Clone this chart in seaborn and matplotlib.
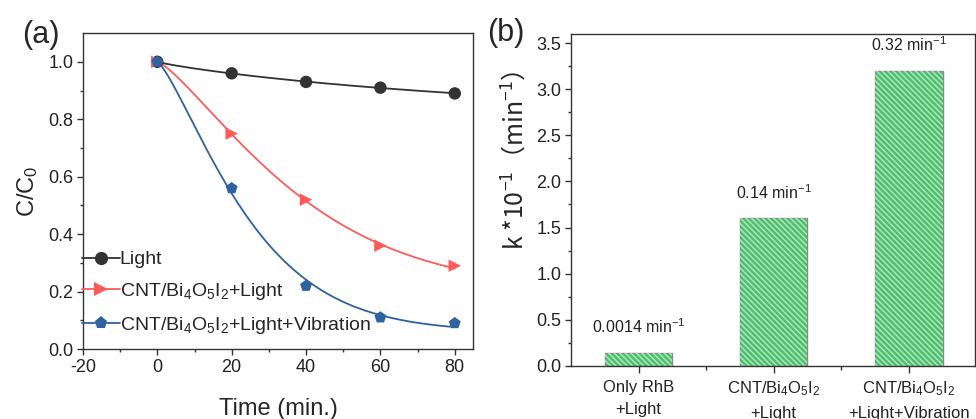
import matplotlib

matplotlib.use("Agg")

import matplotlib.pyplot as plt
import numpy as np
import pandas as pd
import seaborn as sns
from matplotlib.lines import Line2D
from matplotlib.patches import Rectangle
from matplotlib.ticker import MultipleLocator, FixedLocator

# panel (a): degradation curves
time_min = [0, 20, 40, 60, 80]
light_only = [1.0, 0.96, 0.93, 0.91, 0.89]
cnt_light = [1.0, 0.75, 0.52, 0.36, 0.29]
cnt_light_vib = [1.0, 0.56, 0.22, 0.11, 0.09]
series_names = ["Light", "CNT/Bi$_4$O$_5$I$_2$+Light", "CNT/Bi$_4$O$_5$I$_2$+Light+Vibration"]
series_colors = ["#333333", "#ff5a5a", "#2e62a0"]
series_markers = ["o", ">", "p"]

# panel (b): rate constants
bar_labels = [
    "Only RhB\n+Light",
    "CNT/Bi$_4$O$_5$I$_2$\n+Light",
    "CNT/Bi$_4$O$_5$I$_2$\n+Light+Vibration",
]
k_values = [0.14, 1.6, 3.2]
k_text = ["0.0014 min$^{-1}$", "0.14 min$^{-1}$", "0.32 min$^{-1}$"]


def fit_decay(t, c):
    # least-squares fit of c = b + (1-b)*exp(-(t/tau)^p) by grid search
    t = np.asarray(t, float)
    c = np.asarray(c, float)
    b = np.linspace(0, 0.95, 96)[:, None, None, None]
    tau = np.geomspace(5, 2000, 220)[None, :, None, None]
    p = np.linspace(0.8, 1.3, 21)[None, None, :, None]
    pred = b + (1 - b) * np.exp(-(t / tau) ** p)
    err = ((pred - c) ** 2).sum(axis=-1)
    i, j, k = np.unravel_index(np.argmin(err), err.shape)
    return b[i, 0, 0, 0], tau[0, j, 0, 0], p[0, 0, k, 0]


sns.set_style("ticks")
plt.rcParams["font.family"] = ["Liberation Sans", "DejaVu Sans", "Noto Sans CJK SC"]
plt.rcParams["mathtext.fontset"] = "custom"
plt.rcParams["mathtext.rm"] = "Liberation Sans"
plt.rcParams["mathtext.it"] = "Liberation Sans:italic"
plt.rcParams["mathtext.default"] = "regular"
plt.rcParams["axes.unicode_minus"] = False
plt.rcParams["axes.edgecolor"] = "#333333"
plt.rcParams["axes.linewidth"] = 1.0
plt.rcParams["xtick.color"] = "#333333"
plt.rcParams["ytick.color"] = "#333333"
plt.rcParams["xtick.labelcolor"] = "#222222"
plt.rcParams["ytick.labelcolor"] = "#222222"
plt.rcParams["hatch.linewidth"] = 1.1

fig = plt.figure(figsize=(9.76, 4.19), dpi=100)
ax_a = fig.add_axes([0.085, 0.167, 0.400, 0.754])
ax_b = fig.add_axes([0.585, 0.127, 0.414, 0.792])

# ---- (a)
xs = np.linspace(0, 80, 200)
handles = []
for vals, name, col, mk in zip([light_only, cnt_light, cnt_light_vib], series_names, series_colors, series_markers):
    b, tau, p = fit_decay(time_min, vals)
    fit = pd.DataFrame({"t": xs, "c": b + (1 - b) * np.exp(-(xs / tau) ** p)})
    sns.lineplot(data=fit, x="t", y="c", color=col, lw=1.3, ax=ax_a, legend=False)
    pts = pd.DataFrame({"t": time_min, "c": vals})
    sns.scatterplot(data=pts, x="t", y="c", color=col, marker=mk, s=80, edgecolor="none",
                    ax=ax_a, legend=False, zorder=3)
    handles.append(Line2D([], [], color=col, lw=1.3, marker=mk, markersize=9.5, markeredgewidth=0, label=name))

ax_a.set_xlim(-20, 85)
ax_a.set_ylim(0, 1.1)
ax_a.xaxis.set_major_locator(MultipleLocator(20))
ax_a.xaxis.set_minor_locator(MultipleLocator(10))
ax_a.yaxis.set_major_locator(FixedLocator([0, 0.2, 0.4, 0.6, 0.8, 1.0]))
ax_a.yaxis.set_minor_locator(FixedLocator([0.1, 0.3, 0.5, 0.7, 0.9]))
ax_a.tick_params(which="major", length=4, width=1, labelsize=13, pad=3)
ax_a.tick_params(which="minor", length=2.5, width=1)
ax_a.set_xlabel("Time (min.)", fontsize=17)
ax_a.set_ylabel("C/C$_0$", fontsize=17)
ax_a.xaxis.set_label_coords(0.5, -0.155)
ax_a.yaxis.set_label_coords(-0.11, 0.5)
ax_a.legend(handles=handles, loc="lower left", bbox_to_anchor=(-0.003, 0.042), frameon=False,
            fontsize=14, handlelength=1.95, handletextpad=0.0, labelspacing=0.65,
            borderpad=0, borderaxespad=0)

# ---- (b)
bars = pd.DataFrame({"cat": ["a", "b", "c"], "k": k_values})
sns.barplot(data=bars, x="cat", y="k", color="#4fbf6f", saturation=1, width=0.5,
            edgecolor="#8a8a8a", linewidth=1, ax=ax_b)
for p in list(ax_b.patches):
    ax_b.add_patch(Rectangle(p.get_xy(), p.get_width(), p.get_height(), fill=False,
                             hatch="\\\\\\\\\\\\", edgecolor="#a8e8ba", lw=0, zorder=p.get_zorder() + 0.1))
for i, (v, t) in enumerate(zip(k_values, k_text)):
    ax_b.annotate(t, (i, v), xytext=(0, 12), textcoords="offset points", ha="center", va="bottom",
                  fontsize=11.5, color="#222222")

ax_b.set_xlim(-0.5, 2.49)
ax_b.set_ylim(0, 3.6)
ax_b.set_xticks(range(3), bar_labels, fontsize=12, linespacing=1.6)
ax_b.xaxis.set_minor_locator(FixedLocator([0.5, 1.5]))
ax_b.yaxis.set_major_locator(MultipleLocator(0.5))
ax_b.yaxis.set_minor_locator(MultipleLocator(0.25))
ax_b.tick_params(axis="x", which="major", length=5, width=1, pad=5)
ax_b.tick_params(axis="x", which="minor", length=3, width=1)
ax_b.tick_params(axis="y", which="major", length=4, width=1, labelsize=13, pad=3)
ax_b.tick_params(axis="y", which="minor", length=2.5, width=1)
ax_b.set_xlabel("")
ax_b.set_ylabel("k *10$^{-1}$（min$^{-1}$）", fontsize=18, family="Noto Sans CJK SC")
ax_b.yaxis.set_label_coords(-0.1, 0.62)

fig.text(22 / 976, 1 - 35 / 419, "(a)", fontsize=22, va="center", ha="left")
fig.text(487 / 976, 1 - 33 / 419, "(b)", fontsize=22, va="center", ha="left")

plt.savefig("out.png", dpi=100)
plt.close()
